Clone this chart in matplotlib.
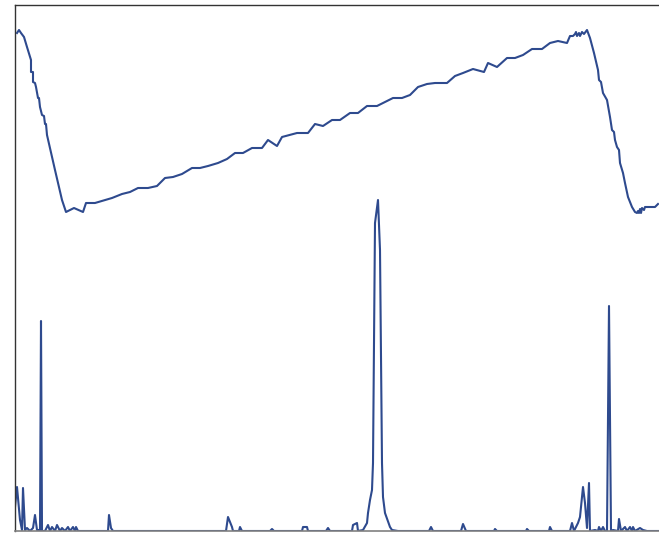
import matplotlib
matplotlib.use("Agg")
import matplotlib.pyplot as plt

# upper curve (slow ramp with drops at both ends)
upper_t = [2, 4, 6, 9, 12, 16, 16, 18, 18, 20,
           21, 23, 24, 25, 27, 29, 30, 31, 32, 40,
           47, 51, 59, 68, 71, 80, 97, 107, 115, 123,
           133, 142, 150, 158, 167, 177, 185, 193, 203, 212,
           220, 228, 237, 247, 253, 262, 267, 282, 293, 300,
           308, 317, 325, 335, 343, 352, 362, 378, 387, 395,
           403, 412, 420, 432, 440, 448, 458, 469, 473, 482,
           492, 500, 508, 517, 527, 535, 543, 552, 555, 558,
           560, 561, 562, 564, 565, 567, 569, 572, 575, 579,
           583, 584, 586, 588, 592, 595, 597, 599, 600, 602,
           604, 605, 608, 610, 613, 617, 620, 622, 623, 624,
           625, 626, 627, 629, 630, 635, 640, 643]
upper_v = [498, 501, 498, 494, 484, 471, 459, 459, 449, 448,
           444, 433, 433, 424, 416, 415, 407, 407, 396, 361,
           331, 319, 323, 319, 328, 328, 333, 337, 339, 343,
           343, 345, 353, 354, 357, 363, 363, 365, 368, 372,
           378, 378, 383, 383, 391, 385, 394, 398, 398, 407,
           405, 411, 411, 418, 418, 425, 425, 433, 433, 436,
           444, 447, 448, 448, 455, 458, 462, 459, 468, 464,
           473, 473, 476, 482, 482, 488, 490, 488, 495, 495,
           497, 499, 495, 498, 495, 499, 497, 501, 493, 478,
           461, 451, 449, 438, 431, 414, 401, 399, 391, 384,
           381, 368, 358, 348, 334, 324, 319, 318, 320, 318,
           322, 318, 323, 321, 324, 324, 324, 327]

# lower curve (spikes on a zero baseline)
lower_t = [0, 2, 5, 7, 8, 10, 12, 15, 18, 20,
           22, 24, 25, 26, 27, 30, 33, 35, 37, 40,
           42, 45, 47, 50, 53, 55, 58, 60, 61, 63,
           93, 94, 96, 98, 211, 213, 217, 218, 224, 225,
           227, 255, 257, 259, 287, 288, 292, 293, 311, 313,
           315, 337, 338, 342, 343, 348, 352, 353, 355, 357,
           358, 360, 363, 365, 367, 368, 370, 375, 377, 383,
           414, 416, 418, 446, 448, 451, 479, 480, 482, 511,
           512, 514, 534, 535, 537, 555, 557, 559, 563, 565,
           568, 570, 572, 574, 575, 580, 583, 584, 586, 588,
           590, 592, 594, 596, 598, 603, 604, 606, 610,
           612, 615, 617, 618, 620, 625, 628, 632, 644]
lower_v = [24, 44, 11, 1, 43, 1, 3, 0, 3, 16,
           1, 1, 0, 210, 0, 0, 6, 0, 4, 0,
           6, 0, 3, 0, 4, 0, 4, 0, 4, 0,
           0, 16, 3, 0, 0, 14, 4, 0, 0, 4,
           0, 0, 2, 0, 0, 4, 4, 0, 0, 3,
           0, 0, 6, 8, 0, 1, 8, 18, 31, 41,
           68, 308, 331, 281, 68, 34, 18, 4, 1, 0,
           0, 4, 0, 0, 7, 0, 0, 2, 0, 0,
           2, 0, 0, 4, 0, 0, 8, 0, 8, 14,
           44, 28, 3, 48, 0, 1, 0, 4, 0, 4,
           0, 0, 225, 0, 1, 0, 12, 0, 4,
           0, 4, 0, 4, 0, 3, 1, 0, 0]

color = "#2e4a8e"

fig = plt.figure(figsize = (6.59, 5.33), dpi = 100)
ax = fig.add_axes([15 / 659, 2 / 533, 645 / 659, 526 / 533])
ax.plot(upper_t, upper_v, color = color, lw = 1.5)
ax.plot(lower_t, lower_v, color = color, lw = 1.5)
ax.set_xlim(0, 645)
ax.set_ylim(0, 526)
ax.set_xticks([])
ax.set_yticks([])
for side in ["left", "top"]:
    ax.spines[side].set_color("#333333")
    ax.spines[side].set_linewidth(1.0)
ax.spines["bottom"].set_color("#808080")
ax.spines["bottom"].set_linewidth(1.2)
ax.spines["right"].set_visible(False)

fig.savefig("out.png", dpi = 100)
